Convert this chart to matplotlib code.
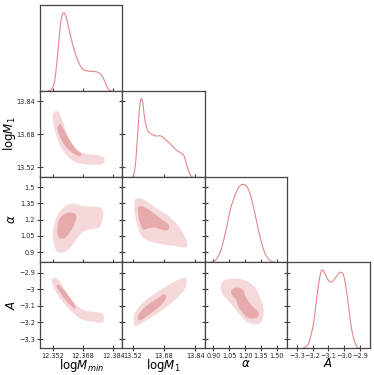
import matplotlib
matplotlib.use("Agg")
import matplotlib.pyplot as plt
import numpy as np

# ---------------- data ----------------
names = ["logMmin", "logM1", "alpha", "A"]
labels = [r"log$M_{min}$", r"log$M_1$", r"$\alpha$", r"$A$"]
limits = [(12.3452, 12.3888), (13.467, 13.889), (0.818, 1.597), (-3.362, -2.838)]
ylimits_rows = [None, (13.475, 13.892), (0.808, 1.598), (-3.354, -2.838)]

xticks = [[12.352, 12.368, 12.384], [13.52, 13.68, 13.84],
          [0.90, 1.05, 1.20, 1.35, 1.50], [-3.3, -3.2, -3.1, -3.0, -2.9]]
xticklabels = [["12.352", "12.368", "12.384"], ["13.52", "13.68", "13.84"],
               ["0.90", "1.05", "1.20", "1.35", "1.50"],
               ["\u22123.3", "\u22123.2", "\u22123.1", "\u22123.0", "\u22122.9"]]
yticks = [None, [13.52, 13.68, 13.84], [0.9, 1.05, 1.2, 1.35, 1.5],
          [-3.3, -3.2, -3.1, -3.0, -2.9]]
yticklabels = [None, ["13.52", "13.68", "13.84"], ["0.9", "1.05", "1.2", "1.35", "1.5"],
               ["\u22123.3", "\u22123.2", "\u22123.1", "\u22123", "\u22122.9"]]

# 1D marginal densities (normalised to peak 1)
d_logMmin_x = [12.3497, 12.3515, 12.3532, 12.3550, 12.3563, 12.3577, 12.3591, 12.3603, 12.3630,
               12.3657, 12.3683, 12.3719, 12.3755, 12.3781, 12.3799, 12.3817, 12.3829]
d_logMmin_y = [0.0, 0.026, 0.16, 0.60, 0.90, 1.0, 0.94, 0.81, 0.55, 0.36, 0.27, 0.25, 0.24,
               0.19, 0.09, 0.01, 0.0]
d_logM1_x = [13.522, 13.534, 13.546, 13.555, 13.5635, 13.572, 13.581, 13.595, 13.612, 13.638,
             13.664, 13.690, 13.716, 13.742, 13.768, 13.782, 13.794, 13.811, 13.823]
d_logM1_y = [0.0, 0.15, 0.58, 0.88, 1.0, 0.94, 0.75, 0.60, 0.55, 0.52, 0.52, 0.47, 0.41, 0.34,
             0.30, 0.27, 0.17, 0.04, 0.0]
d_alpha_x = [0.875, 0.922, 0.970, 1.017, 1.065, 1.113, 1.144, 1.180, 1.216, 1.248, 1.287,
             1.335, 1.383, 1.430, 1.478]
d_alpha_y = [0.0, 0.03, 0.15, 0.40, 0.70, 0.89, 0.97, 1.0, 0.97, 0.87, 0.66, 0.36, 0.13,
             0.03, 0.0]
d_A_x = [-3.2575, -3.2254, -3.1934, -3.172, -3.1506, -3.1357, -3.1186, -3.0972, -3.0758,
         -3.0545, -3.0331, -3.0182, -3.001, -2.9797, -2.9583, -2.937, -2.9156, -2.9007]
d_A_y = [0.0, 0.06, 0.32, 0.67, 0.95, 1.0, 0.94, 0.86, 0.85, 0.90, 0.96, 0.97, 0.92, 0.67,
         0.32, 0.11, 0.01, 0.0]

# 2D contours: (outer 95% region, inner 68% region), as (x list, y list)
c_M1_Mmin_outer = (
    [12.35323, 12.35198, 12.35234, 12.35376, 12.35589, 12.35856, 12.36211, 12.36656, 12.37189,
     12.37722, 12.37936, 12.37899, 12.37633, 12.37189, 12.36744, 12.36389, 12.36122, 12.35909,
     12.35731, 12.35589, 12.35447],
    [13.7916, 13.7722, 13.7238, 13.6753, 13.6268, 13.5864, 13.5541, 13.5379, 13.5331, 13.5331,
     13.546, 13.567, 13.5783, 13.5816, 13.5913, 13.6139, 13.6462, 13.6915, 13.74, 13.7755,
     13.7916])
c_M1_Mmin_inner = (
    [12.35536, 12.35447, 12.35553, 12.35767, 12.36122, 12.36478, 12.36656, 12.36692, 12.36478,
     12.36211, 12.35945, 12.35731, 12.35625],
    [13.727, 13.7076, 13.6753, 13.6349, 13.5977, 13.5783, 13.5735, 13.5864, 13.6026, 13.6349,
     13.6753, 13.7109, 13.7303])
c_alpha_Mmin_outer = (
    [12.35234, 12.35198, 12.35323, 12.35589, 12.35945, 12.363, 12.36833, 12.37366, 12.37722,
     12.37864, 12.3781, 12.37633, 12.37189, 12.36744, 12.36389, 12.36033, 12.35678, 12.35376],
    [1.0041, 1.096, 1.1879, 1.2797, 1.3349, 1.3472, 1.3257, 1.3196, 1.3104, 1.2645, 1.1879,
     1.1267, 1.1113, 1.0807, 1.0041, 0.9276, 0.897, 0.9184])
c_alpha_Mmin_inner = (
    [12.35447, 12.355, 12.35678, 12.36033, 12.36353, 12.36442, 12.363, 12.36086, 12.35856,
     12.35589, 12.35447],
    [1.1267, 1.1879, 1.2338, 1.2645, 1.2553, 1.2185, 1.1419, 1.0807, 1.0348, 1.0286, 1.0654])
c_A_Mmin_outer = (
    [12.35198, 12.35145, 12.35323, 12.35589, 12.35945, 12.363, 12.36744, 12.37277, 12.3781,
     12.37899, 12.3781, 12.37366, 12.36833, 12.36478, 12.36122, 12.35802, 12.355, 12.35323],
    [-2.9362, -2.9562, -3.0061, -3.0561, -3.1061, -3.1461, -3.182, -3.1961, -3.2, -3.176,
     -3.1461, -3.1361, -3.1261, -3.0961, -3.0501, -2.9961, -2.9462, -2.9302])
c_A_Mmin_inner = (
    [12.35412, 12.35447, 12.35678, 12.35945, 12.36211, 12.36389, 12.36353, 12.36158, 12.35909,
     12.35625, 12.355],
    [-2.9762, -2.9961, -3.0361, -3.0761, -3.1061, -3.1161, -3.0961, -3.0621, -3.0222, -2.9862,
     -2.9721])
c_alpha_M1_outer = (
    [13.5305, 13.5271, 13.534, 13.5479, 13.5652, 13.5998, 13.6691, 13.7384, 13.7903, 13.799,
     13.7817, 13.747, 13.7037, 13.6518, 13.5998, 13.5652, 13.5392],
    [1.3716, 1.3104, 1.2185, 1.1267, 1.05, 1.0041, 0.9735, 0.9582, 0.9429, 0.9888, 1.0654,
     1.1573, 1.2338, 1.2951, 1.3564, 1.3962, 1.3962])
c_alpha_M1_inner = (
    [13.5479, 13.5479, 13.5565, 13.5739, 13.5998, 13.6345, 13.6778, 13.7037, 13.7037, 13.6691,
     13.6345, 13.5998, 13.5652],
    [1.3104, 1.2491, 1.1726, 1.1113, 1.1205, 1.1267, 1.1021, 1.1113, 1.1573, 1.2032, 1.2491,
     1.2951, 1.3257])
c_A_M1_outer = (
    [13.5254, 13.5288, 13.5427, 13.5773, 13.6466, 13.7159, 13.7765, 13.7938, 13.7938, 13.7678,
     13.7159, 13.6466, 13.5773, 13.534],
    [-3.1861, -3.216, -3.222, -3.1961, -3.1461, -3.0861, -3.0162, -2.9762, -2.9362, -2.9362,
     -2.9661, -3.0162, -3.0761, -3.1361])
c_A_M1_inner = (
    [13.5461, 13.5513, 13.5687, 13.612, 13.6639, 13.6899, 13.6812, 13.6466, 13.5947, 13.56],
    [-3.1661, -3.1861, -3.182, -3.1461, -3.0961, -3.0561, -3.0301, -3.0561, -3.0961, -3.1361])
c_A_alpha_outer = (
    [0.973, 1.0048, 1.0841, 1.1952, 1.2905, 1.3381, 1.3698, 1.3698, 1.3381, 1.2746, 1.1952,
     1.1159, 1.0365, 0.9826],
    [-2.9762, -2.9462, -2.9362, -2.9462, -2.9862, -3.0461, -3.1061, -3.1661, -3.206, -3.21,
     -3.1861, -3.1261, -3.0661, -3.0261])
c_A_alpha_inner = (
    [1.0683, 1.1159, 1.1793, 1.2048, 1.2587, 1.3222, 1.3222, 1.2746, 1.2111, 1.1476, 1.1159,
     1.0778],
    [-3.0061, -2.9901, -3.0021, -3.0461, -3.0961, -3.1361, -3.1661, -3.176, -3.1661, -3.1161,
     -3.0661, -3.0361])

diag = [(d_logMmin_x, d_logMmin_y), (d_logM1_x, d_logM1_y),
        (d_alpha_x, d_alpha_y), (d_A_x, d_A_y)]
contours = {
    (1, 0): (c_M1_Mmin_outer, c_M1_Mmin_inner),
    (2, 0): (c_alpha_Mmin_outer, c_alpha_Mmin_inner),
    (3, 0): (c_A_Mmin_outer, c_A_Mmin_inner),
    (2, 1): (c_alpha_M1_outer, c_alpha_M1_inner),
    (3, 1): (c_A_M1_outer, c_A_M1_inner),
    (3, 2): (c_A_alpha_outer, c_A_alpha_inner),
}

# ---------------- style ----------------
line_col = "#e4868a"
outer_col = "#f5d9da"
inner_col = "#e6a9ac"
spine_col = "#444444"
tick_fs = 4.7
label_fs = 8.5
dens_top = 1.1


def smooth_closed(x, y, n=8):
    # Catmull-Rom smoothing of a closed outline for rendering
    x = np.asarray(x); y = np.asarray(y)
    m = len(x)
    out_x, out_y = [], []
    for i in range(m):
        p0 = np.array([x[i - 1], y[i - 1]]); p1 = np.array([x[i], y[i]])
        p2 = np.array([x[(i + 1) % m], y[(i + 1) % m]]); p3 = np.array([x[(i + 2) % m], y[(i + 2) % m]])
        for t in np.linspace(0, 1, n, endpoint=False):
            t2, t3 = t * t, t * t * t
            p = 0.5 * ((2 * p1) + (-p0 + p2) * t + (2 * p0 - 5 * p1 + 4 * p2 - p3) * t2
                       + (-p0 + 3 * p1 - 3 * p2 + p3) * t3)
            out_x.append(p[0]); out_y.append(p[1])
    return out_x, out_y


def smooth_open(x, y, n=8):
    x = np.asarray(x); y = np.asarray(y)
    m = len(x)
    out_x, out_y = [], []
    for i in range(m - 1):
        p0 = np.array([x[max(i - 1, 0)], y[max(i - 1, 0)]]); p1 = np.array([x[i], y[i]])
        p2 = np.array([x[i + 1], y[i + 1]]); p3 = np.array([x[min(i + 2, m - 1)], y[min(i + 2, m - 1)]])
        for t in np.linspace(0, 1, n, endpoint=False):
            t2, t3 = t * t, t * t * t
            p = 0.5 * ((2 * p1) + (-p0 + p2) * t + (2 * p0 - 5 * p1 + 4 * p2 - p3) * t2
                       + (-p0 + 3 * p1 - 3 * p2 + p3) * t3)
            out_x.append(p[0]); out_y.append(max(p[1], 0.0))
    out_x.append(x[-1]); out_y.append(y[-1])
    return out_x, out_y


fig, axes = plt.subplots(4, 4, figsize=(3.74, 3.75), dpi=100)
fig.subplots_adjust(left=40 / 374, right=369.5 / 374, top=1 - 5 / 375, bottom=1 - 348 / 375,
                    wspace=0, hspace=0)

for r in range(4):
    for c in range(4):
        ax = axes[r, c]
        if c > r:
            ax.set_visible(False)
            continue
        for s in ax.spines.values():
            s.set_color(spine_col)
            s.set_linewidth(0.9)
        ax.tick_params(direction="inout", length=4, width=0.8, colors=spine_col,
                       labelsize=tick_fs, labelcolor="#222222", pad=1.5)
        ax.set_xlim(limits[c])
        ax.set_xticks(xticks[c])
        if r == 3:
            ax.set_xticklabels(xticklabels[c])
            ax.set_xlabel(labels[c], fontsize=label_fs, labelpad=-1)
        else:
            ax.set_xticklabels([])
        if r == c:
            dx, dy = diag[c]
            sx, sy = smooth_open(dx, dy)
            ax.plot(sx, sy, color=line_col, lw=0.8)
            ax.set_ylim(0, dens_top)
            if r == 0:
                ax.set_yticks([])
            else:
                lo, hi = ylimits_rows[r]
                ax.set_yticks([(t - lo) / (hi - lo) * dens_top for t in yticks[r]])
                ax.set_yticklabels([])
        else:
            outer, inner = contours[(r, c)]
            ox, oy = smooth_closed(*outer)
            ix, iy = smooth_closed(*inner)
            ax.fill(ox, oy, color=outer_col, lw=0)
            ax.fill(ix, iy, color=inner_col, lw=0)
            ax.set_ylim(ylimits_rows[r])
            ax.set_yticks(yticks[r])
            if c == 0:
                ax.set_yticklabels(yticklabels[r])
                ax.set_ylabel(labels[r], fontsize=label_fs)
                ax.yaxis.set_label_coords(-22.5 / 82.4, 0.5)
            else:
                ax.set_yticklabels([])

fig.savefig("out.png", dpi=100)
